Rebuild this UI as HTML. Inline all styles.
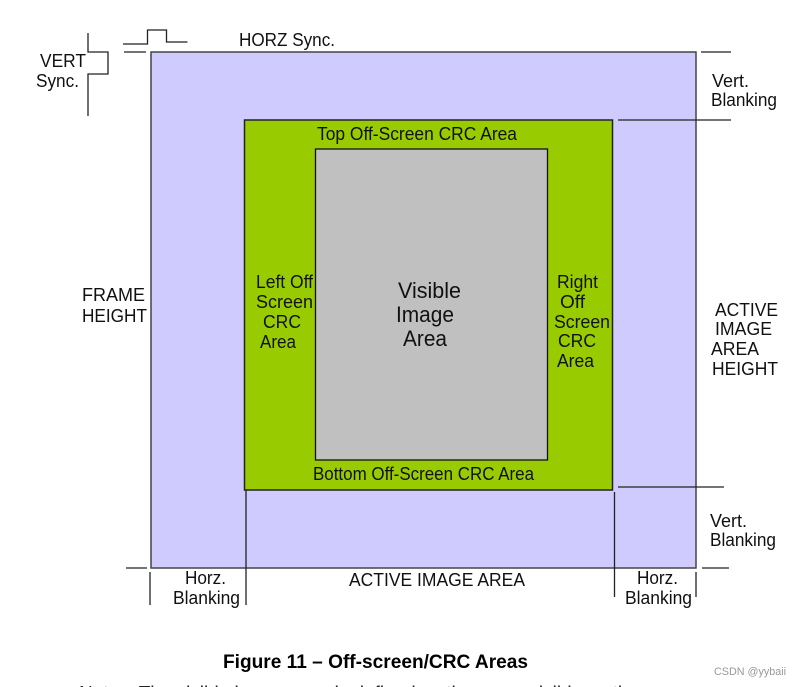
<!DOCTYPE html>
<html><head><meta charset="utf-8"><style>
html,body{margin:0;padding:0;background:#fff;width:800px;height:687px;overflow:hidden}
svg{display:block}
text{font-family:"Liberation Sans",sans-serif;fill:#111;font-size:18px}
</style></head><body>
<svg width="800" height="687" viewBox="0 0 800 687">
<rect width="800" height="687" fill="#fff"/>
<rect x="151" y="52" width="545" height="516" fill="#cfcbff" stroke="#444" stroke-width="1.5"/>
<rect x="244.500" y="120" width="368" height="370" fill="#99cc00" stroke="#222" stroke-width="1.5"/>
<rect x="315.500" y="149" width="232" height="311" fill="#c0c0c0" stroke="#111" stroke-width="1.3"/>
<g fill="none" stroke="#222" stroke-width="1.300">
<path d="M123 44H147.500V30H166.500V42H187.500"/>
<path d="M124 52H146"/>
<path d="M88 33V52H108V74H88V116"/>
<path d="M701 52H731"/>
<path d="M618 120H731"/>
<path d="M618 487H724"/>
<path d="M702 568H729"/>
<path d="M126 568H147"/>
<path d="M246 490V605"/>
<path d="M614.500 492V597"/>
<path d="M150 572V605"/>
<path d="M696 572V597"/>
</g>
<text lengthAdjust="spacingAndGlyphs" x="239" y="46" textLength="96">HORZ Sync.</text>
<text lengthAdjust="spacingAndGlyphs" x="40" y="67" textLength="46">VERT</text>
<text lengthAdjust="spacingAndGlyphs" x="36" y="87" textLength="43">Sync.</text>
<text lengthAdjust="spacingAndGlyphs" x="712" y="87" textLength="37">Vert.</text>
<text lengthAdjust="spacingAndGlyphs" x="711" y="106" textLength="66">Blanking</text>
<text lengthAdjust="spacingAndGlyphs" x="317" y="140" textLength="200">Top Off-Screen CRC Area</text>
<text lengthAdjust="spacingAndGlyphs" x="313" y="480" textLength="221">Bottom Off-Screen CRC Area</text>
<text lengthAdjust="spacingAndGlyphs" x="82" y="301" textLength="63">FRAME</text>
<text lengthAdjust="spacingAndGlyphs" x="82" y="322" textLength="65">HEIGHT</text>
<text lengthAdjust="spacingAndGlyphs" x="256" y="288" textLength="57">Left Off</text>
<text lengthAdjust="spacingAndGlyphs" x="256" y="308" textLength="57">Screen</text>
<text lengthAdjust="spacingAndGlyphs" x="263" y="328" textLength="38">CRC</text>
<text lengthAdjust="spacingAndGlyphs" x="260" y="348" textLength="36">Area</text>
<text lengthAdjust="spacingAndGlyphs" x="557" y="288" textLength="41">Right</text>
<text lengthAdjust="spacingAndGlyphs" x="560" y="308" textLength="25">Off</text>
<text lengthAdjust="spacingAndGlyphs" x="554" y="328" textLength="56">Screen</text>
<text lengthAdjust="spacingAndGlyphs" x="558" y="347" textLength="38">CRC</text>
<text lengthAdjust="spacingAndGlyphs" x="557" y="367" textLength="37">Area</text>
<text lengthAdjust="spacingAndGlyphs" x="398" y="298" textLength="63" style="font-size:22px">Visible</text>
<text lengthAdjust="spacingAndGlyphs" x="396" y="322" textLength="58" style="font-size:22px">Image</text>
<text lengthAdjust="spacingAndGlyphs" x="403" y="346" textLength="44" style="font-size:22px">Area</text>
<text lengthAdjust="spacingAndGlyphs" x="715" y="316" textLength="63">ACTIVE</text>
<text lengthAdjust="spacingAndGlyphs" x="715" y="335" textLength="57">IMAGE</text>
<text lengthAdjust="spacingAndGlyphs" x="711" y="355" textLength="48">AREA</text>
<text lengthAdjust="spacingAndGlyphs" x="712" y="375" textLength="66">HEIGHT</text>
<text lengthAdjust="spacingAndGlyphs" x="710" y="527" textLength="37">Vert.</text>
<text lengthAdjust="spacingAndGlyphs" x="710" y="546" textLength="66">Blanking</text>
<text lengthAdjust="spacingAndGlyphs" x="185" y="584" textLength="41">Horz.</text>
<text lengthAdjust="spacingAndGlyphs" x="173" y="604" textLength="67">Blanking</text>
<text lengthAdjust="spacingAndGlyphs" x="349" y="586" textLength="176">ACTIVE IMAGE AREA</text>
<text lengthAdjust="spacingAndGlyphs" x="637" y="584" textLength="41">Horz.</text>
<text lengthAdjust="spacingAndGlyphs" x="625" y="604" textLength="67">Blanking</text>
<text lengthAdjust="spacingAndGlyphs" x="223" y="668" textLength="305" style="font-weight:bold;font-size:19px;fill:#000">Figure 11 – Off-screen/CRC Areas</text>
<text lengthAdjust="spacingAndGlyphs" x="79" y="699" textLength="560" style="font-size:18px;fill:#222">Notes: The visible image area is defined as the same visible as the</text>
<text lengthAdjust="spacingAndGlyphs" x="714" y="675" textLength="72" style="font-size:11px;fill:#999">CSDN @yybaii</text>
</svg>
</body></html>
